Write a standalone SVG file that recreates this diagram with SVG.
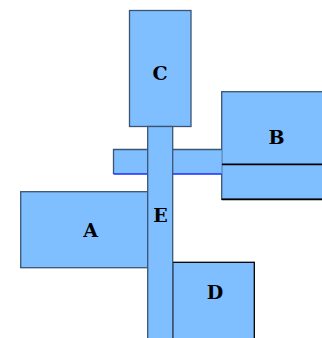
<svg xmlns="http://www.w3.org/2000/svg" width="322" height="338" viewBox="0 0 322 338">
<style>
.box{fill:#80bfff;stroke:#3b5473;stroke-width:1.3}
.dk{fill:#80bfff;stroke:#000;stroke-width:1.3}
.lbl{font-family:"DejaVu Serif","Liberation Serif",serif;font-weight:bold;font-size:19px;fill:#000;text-anchor:middle}
</style>
<rect width="322" height="338" fill="#fff"/>
<g id="C"><rect class="box" x="129.5" y="10.5" width="61.5" height="116"/><text class="lbl" x="160" y="80">C</text></g>
<g id="B"><rect class="box" x="221.7" y="91.7" width="110" height="107.6"/>
<line x1="221.7" y1="164.3" x2="322" y2="164.3" stroke="#000" stroke-width="1.8"/>
<line x1="221.7" y1="199.3" x2="322" y2="199.3" stroke="#000" stroke-width="1.8"/>
<text class="lbl" x="276.5" y="144">B</text></g>
<g id="A"><rect class="box" x="20.7" y="191.7" width="127" height="76"/><text class="lbl" x="90.5" y="236.5">A</text></g>
<g id="D"><rect class="dk" x="172.7" y="262.3" width="81.6" height="90"/><text class="lbl" x="215" y="299">D</text></g>
<g id="connectors">
<path d="M221.7 149.5 H113.5 V174 H221.7 Z" fill="#80bfff" stroke="none"/>
<path d="M221.7 149.5 H113.5 V174" fill="none" stroke="#3b5473" stroke-width="1.3"/>
<line x1="113.5" y1="174" x2="221.7" y2="174" stroke="#1a2cff" stroke-width="1.3"/>
</g>
<g id="E"><rect class="box" x="147.7" y="126.5" width="25" height="220"/><text class="lbl" x="160.5" y="222">E</text></g>
</svg>
